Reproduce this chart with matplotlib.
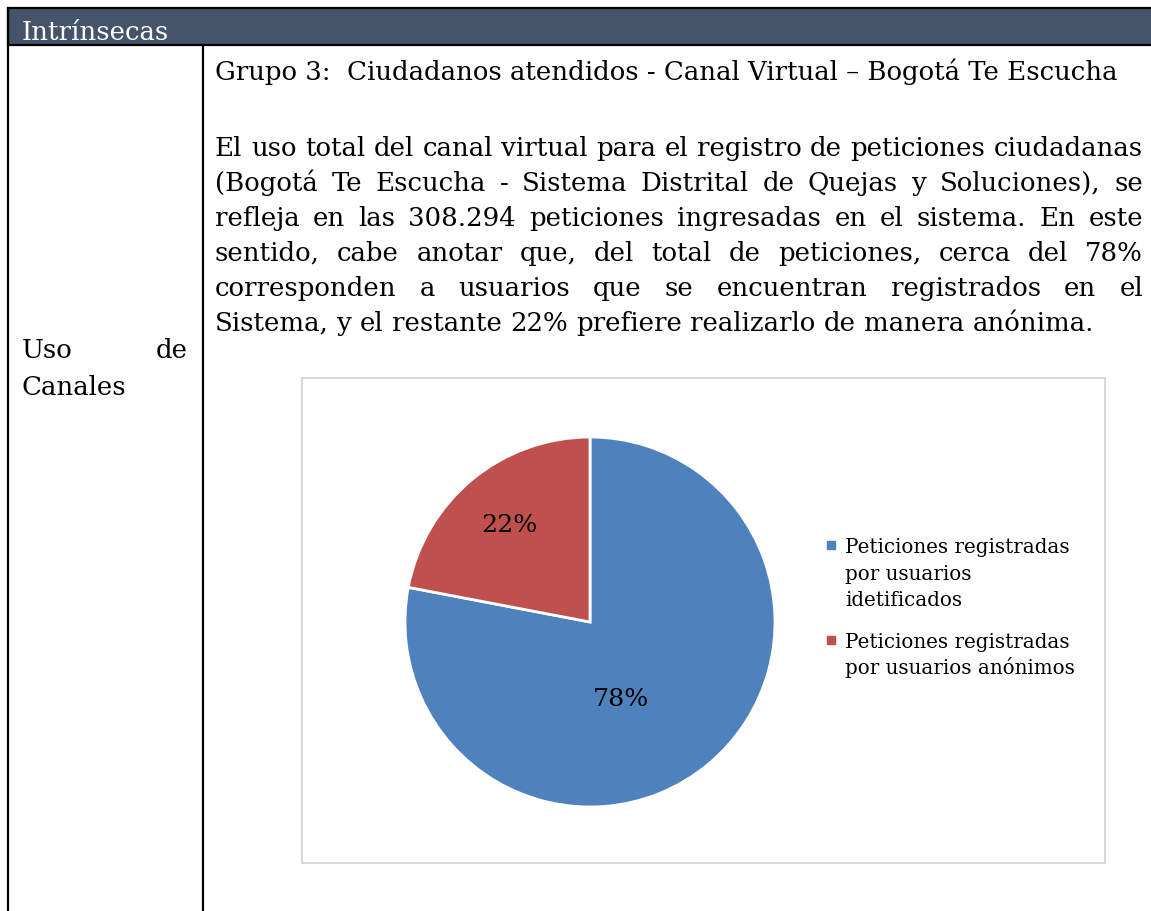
import matplotlib
matplotlib.use("Agg")
import matplotlib.pyplot as plt
from matplotlib.patches import Rectangle

# --- data ---
categories = ["Peticiones registradas\npor usuarios\nidetificados",
              "Peticiones registradas\npor usuarios anónimos"]
shares = [78, 22]
colors = ["#4F81BD", "#C0504D"]

header = "Intrínsecas"
row_label = ["Uso de", "Canales"]
title = "Grupo 3:  Ciudadanos atendidos - Canal Virtual – Bogotá Te Escucha"
paragraph = [
    "El uso total del canal virtual para el registro de peticiones ciudadanas",
    "(Bogotá Te Escucha - Sistema Distrital de Quejas y Soluciones), se",
    "refleja en las 308.294 peticiones ingresadas en el sistema. En este",
    "sentido, cabe anotar que, del total de peticiones, cerca del 78%",
    "corresponden a usuarios que se encuentran registrados en el",
    "Sistema, y el restante 22% prefiere realizarlo de manera anónima.",
]

W, H = 1151, 911
FONT = "DejaVu Serif"

fig = plt.figure(figsize=(W / 100, H / 100), dpi=100)
bg = fig.add_axes([0, 0, 1, 1])
bg.set_xlim(0, W)
bg.set_ylim(H, 0)
bg.axis("off")
r = fig.canvas.get_renderer()


def width(s, size):
    t = bg.text(0, 0, s, fontsize=size, family=FONT)
    w = t.get_window_extent(r).width
    t.remove()
    return w


def put_line(s, x0, x1, y, size, justify=True):
    words = s.split()
    arts = [bg.text(0, y, w, fontsize=size, family=FONT, va="baseline")
            for w in words]
    ws = [a.get_window_extent(r).width for a in arts]
    if justify and len(words) > 1:
        gap = (x1 - x0 - sum(ws)) / (len(words) - 1)
    else:
        gap = width("a a", size) - width("aa", size)
    x = x0
    for a, w in zip(arts, ws):
        a.set_x(x)
        x += w + gap


# fit font size so the first paragraph line fills the column
base = 20
nat = width(paragraph[0], base)
fs = base * 926 / nat

# table frame
bg.add_patch(Rectangle((8, 8), W, 37, facecolor="#44546A", edgecolor="black", lw=1.6))
bg.plot([8, 8], [8, H], color="black", lw=1.6)
bg.plot([203, 203], [45, H], color="black", lw=1.6)
bg.text(22, 40, header, fontsize=fs, family=FONT, color="white", va="baseline")

put_line(row_label[0], 22, 188, 358, fs)
put_line(row_label[1], 22, 188, 395, fs, justify=False)

bg.text(215, 80, title, fontsize=fs, family=FONT, va="baseline")
for i, line in enumerate(paragraph):
    put_line(line, 215, 1143, 156 + 35 * i, fs, justify=i < len(paragraph) - 1)

# chart box
bg.add_patch(Rectangle((302, 378), 803, 485, facecolor="none", edgecolor="#D9D9D9", lw=1.5))

# pie
cx, cy, rad = 590, 622, 185
ax = fig.add_axes([(cx - rad) / W, (H - cy - rad) / H, 2 * rad / W, 2 * rad / H])
wedges, _, autotexts = ax.pie(
    shares, colors=colors, startangle=90, counterclock=False,
    autopct="%d%%", pctdistance=0.68,
    wedgeprops=dict(edgecolor="white", linewidth=2),
    textprops=dict(fontsize=fs * 0.97, family=FONT, color="black"),
)
autotexts[0].set_position((0.17, -0.42))
ax.set_xlim(-1, 1)
ax.set_ylim(-1, 1)
ax.set_aspect("equal")

# legend (square aligned with the first line of each label)
lfs = fs * 223 / width("Peticiones registradas", fs)
y = 553
for lab, col in zip(categories, colors):
    bg.plot(831, y - 8, marker="s", ms=6, color=col, linestyle="none")
    for line in lab.split("\n"):
        bg.text(845, y, line, fontsize=lfs, family=FONT, va="baseline")
        y += 26.5
    y += 15.5

fig.savefig("out.png", dpi=100)
